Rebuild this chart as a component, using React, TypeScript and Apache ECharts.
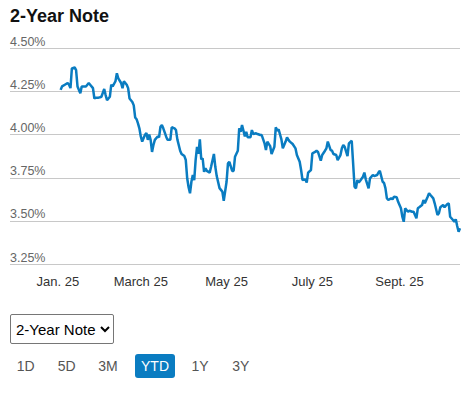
import React, { useEffect, useRef } from "react";
import * as echarts from "echarts";

// Days since Jan 1, 2025
const dayOffsets = [
  2, 3, 5, 7, 8, 9, 10, 12, 13, 14, 16, 17, 19, 20, 22, 23, 25, 26, 27, 29, 30, 31, 33, 34, 35, 37, 38, 39, 41, 42,
  43, 45, 46, 47, 49, 50, 51, 53, 54, 55, 56, 57, 58, 59, 60, 62, 63, 64, 65, 66, 67, 68, 69, 71, 72, 73, 74, 75, 77, 78,
  80, 81, 83, 84, 85, 87, 88, 90, 91, 92, 93, 94, 95, 96, 97, 98, 99, 100, 101, 102, 103, 104, 105, 106, 108, 109, 111, 112, 113, 115,
  117, 118, 120, 121, 122, 124, 125, 126, 128, 129, 130, 131, 133, 134, 135, 137, 138, 139, 141, 142, 144, 145, 147, 148, 149, 151, 152, 154, 155, 156,
  157, 159, 160, 162, 163, 164, 165, 167, 169, 170, 172, 173, 174, 176, 177, 178, 180, 181, 183, 184, 185, 187, 188, 190, 191, 192, 194, 195, 196, 198,
  199, 201, 202, 203, 204, 206, 207, 209, 210, 211, 212, 213, 214, 215, 217, 218, 219, 221, 222, 224, 225, 227, 228, 229, 231, 232, 233, 234, 235, 237,
  238, 239, 241, 242, 244, 245, 246, 247, 249, 250, 252, 253, 255, 256, 257, 259, 260, 261, 263, 264, 265, 267, 268, 270, 271, 272, 274, 275, 277, 278,
  279, 281, 282, 283, 284, 285, 286,
];

const yields = [
  4.26, 4.28, 4.29, 4.30, 4.29, 4.27, 4.385, 4.39, 4.375, 4.28, 4.24, 4.28, 4.28, 4.28, 4.30, 4.29, 4.27, 4.21, 4.215, 4.215, 4.217, 4.22, 4.265, 4.23, 4.20, 4.22, 4.29, 4.28, 4.31, 4.356,
  4.327, 4.30, 4.27, 4.31, 4.29, 4.27, 4.21, 4.19, 4.17, 4.10, 4.09, 4.066, 4.037, 3.99, 3.96, 4.00, 4.01, 3.97, 4.00, 3.97, 3.90, 3.94, 3.97, 3.99, 3.985, 4.046, 4.056, 4.037, 3.99, 3.97,
  3.97, 4.043, 4.037, 4.027, 3.973, 3.907, 3.888, 3.876, 3.853, 3.747, 3.695, 3.66, 3.727, 3.766, 3.737, 3.853, 3.93, 3.89, 3.973, 3.857, 3.863, 3.785, 3.805, 3.79, 3.78, 3.814, 3.888, 3.814, 3.76, 3.69,
  3.67, 3.617, 3.727, 3.834, 3.843, 3.79, 3.79, 3.872, 3.907, 4.037, 4.017, 4.056, 3.99, 4.017, 3.985, 3.985, 4.027, 4.004, 4.008, 4.004, 3.998, 3.998, 3.95, 3.911, 3.96, 3.934, 3.888, 3.93, 4.043, 4.023,
  4.031, 3.973, 3.921, 3.96, 3.985, 3.97, 3.96, 3.946, 3.921, 3.882, 3.843, 3.795, 3.737, 3.741, 3.722, 3.78, 3.795, 3.892, 3.90, 3.907, 3.90, 3.849, 3.882, 3.907, 3.921, 3.96, 3.911, 3.907, 3.888, 3.882,
  3.853, 3.882, 3.921, 3.94, 3.93, 3.876, 3.95, 3.965, 3.834, 3.698, 3.689, 3.737, 3.722, 3.733, 3.756, 3.78, 3.741, 3.689, 3.747, 3.766, 3.76, 3.766, 3.78, 3.79, 3.727, 3.72, 3.689, 3.631, 3.621, 3.631,
  3.625, 3.64, 3.637, 3.611, 3.573, 3.524, 3.495, 3.573, 3.553, 3.559, 3.553, 3.553, 3.515, 3.573, 3.579, 3.592, 3.621, 3.602, 3.64, 3.66, 3.65, 3.631, 3.602, 3.534, 3.544, 3.579, 3.592, 3.579, 3.598, 3.602,
  3.524, 3.505, 3.495, 3.509, 3.47, 3.437, 3.457,
];

const xTickDays = [0, 59, 120, 181, 243];
const xTickLabels = ["Jan. 25", "March 25", "May 25", "July 25", "Sept. 25"];

const yMin = 3.25;
const yMax = 4.5;
const yStep = 0.25;

const rangeButtons = ["1D", "5D", "3M", "YTD", "1Y", "3Y"];
const selectedRange = "YTD";
const noteOptions = ["2-Year Note", "5-Year Note", "10-Year Note", "30-Year Bond"];

const BLUE = "#0a7cc1";
const FONT = "Arial, 'Liberation Sans', sans-serif";

function Chart() {
  const ref = useRef<HTMLDivElement>(null);
  useEffect(() => {
    if (!ref.current) return;
    const chart = echarts.init(ref.current, undefined, { renderer: "svg" });
    const data = dayOffsets.map((d, i) => [d, yields[i]]);
    chart.setOption({
      animation: false,
      title: {
        text: "2-Year Note",
        left: 10,
        top: 7,
        padding: 0,
        textStyle: { fontFamily: FONT, fontSize: 18, fontWeight: "bold", color: "#111" },
      },
      grid: { left: 10, right: 16, top: 48.5, height: 215.5 },
      xAxis: {
        type: "value",
        min: -34,
        max: 286,
        axisLine: { show: false },
        axisTick: { show: false },
        splitLine: { show: false },
        axisLabel: {
          customValues: xTickDays,
          formatter: (v: number) => {
            const i = xTickDays.indexOf(Math.round(v));
            return i >= 0 ? xTickLabels[i] : "";
          },
          fontFamily: FONT,
          fontSize: 13,
          color: "#333",
          margin: 11,
        },
      },
      yAxis: {
        type: "value",
        min: yMin,
        max: yMax,
        interval: yStep,
        axisLine: { show: false },
        axisTick: { show: false },
        splitLine: { show: true, lineStyle: { color: "#c8c8c8", width: 1 } },
        axisLabel: {
          inside: true,
          margin: 0,
          align: "left",
          verticalAlign: "bottom",
          formatter: (v: number) => v.toFixed(2) + "%",
          fontFamily: FONT,
          fontSize: 12.5,
          color: "#666",
        },
      },
      series: [
        {
          type: "line",
          data,
          showSymbol: false,
          silent: true,
          lineStyle: { color: BLUE, width: 2.5 },
        },
      ],
    });
    return () => chart.dispose();
  }, []);
  return <div ref={ref} style={{ position: "absolute", left: 0, top: 0, width: 476, height: 300 }} />;
}

export default function App() {
  const btnCenters = [25.7, 66.7, 108, 155, 200, 240.7];
  return (
    <div
      style={{
        position: "absolute",
        left: 0,
        top: 0,
        width: 476,
        height: 395,
        background: "#fff",
        fontFamily: FONT,
        overflow: "hidden",
      }}
    >
      <Chart />
      <select
        defaultValue={noteOptions[0]}
        style={{
          position: "absolute",
          left: 10,
          top: 314,
          width: 104,
          height: 30,
          fontSize: 15,
          fontFamily: FONT,
          color: "#000",
          border: "1px solid #767676",
          borderRadius: 2,
          background: "#fff",
          padding: "0 0 0 1px",
          boxSizing: "border-box",
        }}
      >
        {noteOptions.map((o) => (
          <option key={o} value={o}>
            {o}
          </option>
        ))}
      </select>
      {rangeButtons.map((b, i) => {
        const sel = b === selectedRange;
        return (
          <span
            key={b}
            style={{
              position: "absolute",
              left: btnCenters[i] - 20,
              top: 354,
              width: 40,
              height: 24,
              lineHeight: "24px",
              textAlign: "center",
              fontSize: 14,
              color: sel ? "#fff" : "#555",
              background: sel ? BLUE : "transparent",
              borderRadius: 3,
            }}
          >
            {b}
          </span>
        );
      })}
    </div>
  );
}
